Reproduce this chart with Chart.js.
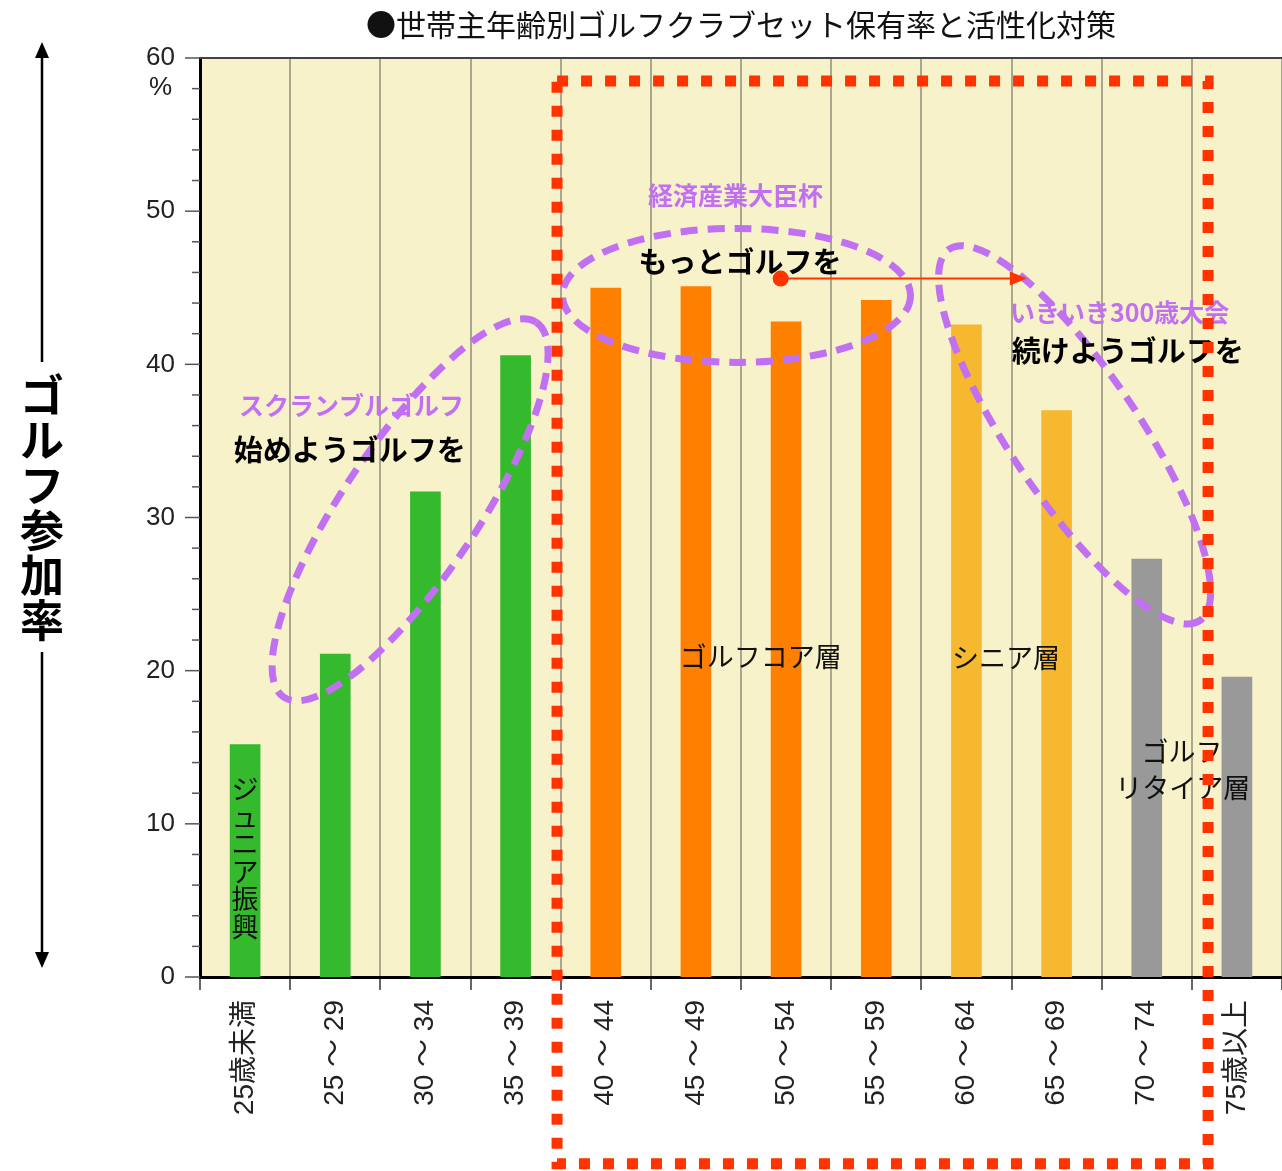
<!DOCTYPE html>
<html lang="ja">
<head>
<meta charset="utf-8">
<title>世帯主年齢別ゴルフクラブセット保有率と活性化対策</title>
<script src="https://cdn.jsdelivr.net/npm/chart.js@4.4.1/dist/chart.umd.min.js"></script>
<style>
  html, body { margin: 0; padding: 0; background: #fff; }
  #wrap { width: 1282px; height: 1171px; position: relative; }
</style>
</head>
<body>
<div id="wrap"><canvas id="golfChart" width="1282" height="1171"></canvas></div>
<script>
// values (% of households owning a golf club set)
const categories = ['25歳未満', '25 ～ 29', '30 ～ 34', '35 ～ 39', '40 ～ 44', '45 ～ 49',
                    '50 ～ 54', '55 ～ 59', '60 ～ 64', '65 ～ 69', '70 ～ 74', '75歳以上'];
const ownershipRate = [15.2, 21.1, 31.7, 40.6, 45.0, 45.1, 42.8, 44.2, 42.6, 37.0, 27.3, 19.6];
const yTickLabels = [0, 10, 20, 30, 40, 50, 60];
const titleText = '●世帯主年齢別ゴルフクラブセット保有率と活性化対策';
const yTitle = 'ゴルフ参加率';

// styling
const GREEN = '#35b92d', ORANGE = '#ff8000', AMBER = '#f5b82f', GRAY = '#999999';
const barColors = [GREEN, GREEN, GREEN, GREEN, ORANGE, ORANGE, ORANGE, ORANGE, AMBER, AMBER, GRAY, GRAY];
const PURPLE = '#c070f0';
const RED = '#ff3300';
const FONT_JP = '"Noto Sans CJK JP", "Noto Sans", sans-serif';
const FONT_NUM = '"Liberation Sans", "Noto Sans CJK JP", sans-serif';

function text(ctx, str, x, y, font, color, align) {
    ctx.font = font;
    ctx.fillStyle = color;
    ctx.textAlign = align || 'center';
    ctx.textBaseline = 'middle';
    ctx.fillText(str, x, y);
}

// stack characters top to bottom
function verticalText(ctx, str, x, yStart, step, font, color) {
    [...str].forEach((ch, i) => text(ctx, ch, x, yStart + i * step, font, color));
}

// yellow plot background
const backdrop = {
    id: 'backdrop',
    beforeDraw(chart) {
        const { ctx, chartArea: a } = chart;
        ctx.save();
        ctx.fillStyle = '#f7f2c9';
        ctx.fillRect(a.left, a.top, a.right - a.left, a.bottom - a.top);
        ctx.restore();
    }
};

// ticks, title, notes, circles and the dotted frame
const notes = {
    id: 'notes',
    afterDraw(chart) {
        const { ctx, chartArea: a } = chart;
        const xs = chart.scales.x, ys = chart.scales.y;
        const X = i => xs.getPixelForValue(i);
        const Y = v => ys.getPixelForValue(v);
        ctx.save();

        // y ticks, long every 10, short every 2
        ctx.strokeStyle = '#555';
        ctx.lineWidth = 1.5;
        for (let v = 0; v <= 60; v += 2) {
            const len = v % 10 === 0 ? 15 : 8;
            ctx.beginPath();
            ctx.moveTo(a.left - len, Y(v));
            ctx.lineTo(a.left, Y(v));
            ctx.stroke();
        }
        // top edge of plot
        ctx.strokeStyle = '#444';
        ctx.lineWidth = 2;
        ctx.beginPath();
        ctx.moveTo(a.left, a.top);
        ctx.lineTo(a.right, a.top);
        ctx.stroke();

        text(ctx, '%', a.left - 28, Y(60) + 30, '26px ' + FONT_NUM, '#222', 'right');

        // chart title
        text(ctx, titleText, (a.left + a.right) / 2, 25, '30px ' + FONT_JP, '#111');

        // left axis title with arrows
        const ax = 42;
        ctx.strokeStyle = '#000';
        ctx.fillStyle = '#000';
        ctx.lineWidth = 2.5;
        ctx.beginPath();
        ctx.moveTo(ax, 48); ctx.lineTo(ax, 362);
        ctx.moveTo(ax, 652); ctx.lineTo(ax, 962);
        ctx.stroke();
        ctx.beginPath();
        ctx.moveTo(ax, 42); ctx.lineTo(ax - 7, 58); ctx.lineTo(ax + 7, 58); ctx.closePath();
        ctx.moveTo(ax, 968); ctx.lineTo(ax - 7, 952); ctx.lineTo(ax + 7, 952); ctx.closePath();
        ctx.fill();
        verticalText(ctx, yTitle, ax, 395, 45, 'bold 44px ' + FONT_JP, '#000');

        // note inside the first bar
        verticalText(ctx, 'ジュニア振興', X(0), Y(13.2) + 14, 27.5, '27px ' + FONT_JP, '#111');

        // purple dashed circles
        ctx.strokeStyle = PURPLE;
        ctx.lineWidth = 7;
        ctx.setLineDash([17, 10]);
        const ang = 56 * Math.PI / 180;
        ctx.beginPath();
        ctx.ellipse(X(1.83), Y(30.5), 226, 67, -ang, 0, Math.PI * 2);
        ctx.stroke();
        ctx.beginPath();
        ctx.ellipse(X(5.45), Y(44.5), 174, 67, 0, 0, Math.PI * 2);
        ctx.stroke();
        ctx.beginPath();
        ctx.ellipse(X(9.2), Y(35.4), 224, 64, ang, 0, Math.PI * 2);
        ctx.stroke();
        ctx.setLineDash([]);

        // red arrow
        const ay = Y(45.6);
        ctx.strokeStyle = RED;
        ctx.fillStyle = RED;
        ctx.lineWidth = 2;
        ctx.beginPath();
        ctx.moveTo(X(5.94), ay);
        ctx.lineTo(X(8.55), ay);
        ctx.stroke();
        ctx.beginPath();
        ctx.arc(X(5.94), ay, 8, 0, Math.PI * 2);
        ctx.fill();
        ctx.beginPath();
        ctx.moveTo(X(8.67), ay);
        ctx.lineTo(X(8.67) - 17, ay - 7);
        ctx.lineTo(X(8.67) - 17, ay + 7);
        ctx.closePath();
        ctx.fill();

        // group notes
        const bold = s => 'bold ' + s + 'px ' + FONT_JP;
        text(ctx, 'スクランブルゴルフ', X(1.18), Y(37.3), bold(25), PURPLE);
        text(ctx, '始めようゴルフを', X(1.16), Y(34.4), bold(29), '#000');
        text(ctx, '経済産業大臣杯', X(5.44), Y(51.0), bold(25), PURPLE);
        text(ctx, 'もっとゴルフを', X(5.49), Y(46.7), bold(29), '#000');
        text(ctx, 'いきいき300歳大会', X(9.70), Y(43.4), bold(25), PURPLE);
        text(ctx, '続けようゴルフを', X(9.79), Y(40.85), bold(29), '#000');

        const plain = '27px ' + FONT_JP;
        text(ctx, 'ゴルフコア層', X(5.72), Y(20.9), plain, '#111');
        text(ctx, 'シニア層', X(8.44), Y(20.85), plain, '#111');
        text(ctx, 'ゴルフ', X(10.39), Y(14.7), plain, '#111');
        text(ctx, 'リタイア層', X(10.40), Y(12.35), plain, '#111');

        // red dotted frame round the core and senior groups
        ctx.strokeStyle = RED;
        ctx.lineWidth = 11;
        ctx.setLineDash([11, 13]);
        ctx.beginPath();
        ctx.rect(X(3.46), Y(58.5), X(10.68) - X(3.46), Y(-12.2) - Y(58.5));
        ctx.stroke();

        ctx.restore();
    }
};

const ctx = document.getElementById('golfChart').getContext('2d');
new Chart(ctx, {
    type: 'bar',
    data: {
        labels: categories,
        datasets: [{
            label: '保有率',
            data: ownershipRate,
            backgroundColor: barColors,
            borderWidth: 0,
            barPercentage: 0.34,
            categoryPercentage: 1.0
        }]
    },
    options: {
        responsive: false,
        animation: false,
        layout: { padding: { top: 58, right: 0, left: 0, bottom: 0 } },
        plugins: {
            legend: { display: false },
            tooltip: { enabled: false }
        },
        scales: {
            x: {
                offset: true,
                grid: {
                    offset: true,
                    color: '#aaa690',
                    lineWidth: 2,
                    tickColor: '#666',
                    tickLength: 13
                },
                border: { display: true, color: '#000', width: 3 },
                ticks: {
                    minRotation: 90,
                    maxRotation: 90,
                    autoSkip: false,
                    padding: 10,
                    color: '#222',
                    font: { family: FONT_NUM, size: 28 }
                },
                afterFit: scale => { scale.height = 194; }
            },
            y: {
                min: 0,
                max: 60,
                grid: { display: false, drawTicks: false },
                border: { display: true, color: '#000', width: 3 },
                ticks: {
                    stepSize: 2,
                    autoSkip: false,
                    padding: 25,
                    color: '#222',
                    font: { family: FONT_NUM, size: 26 },
                    callback: v => yTickLabels.includes(v) ? String(v) : ''
                },
                afterFit: scale => { scale.width = 200; }
            }
        }
    },
    plugins: [backdrop, notes]
});
</script>
</body>
</html>
